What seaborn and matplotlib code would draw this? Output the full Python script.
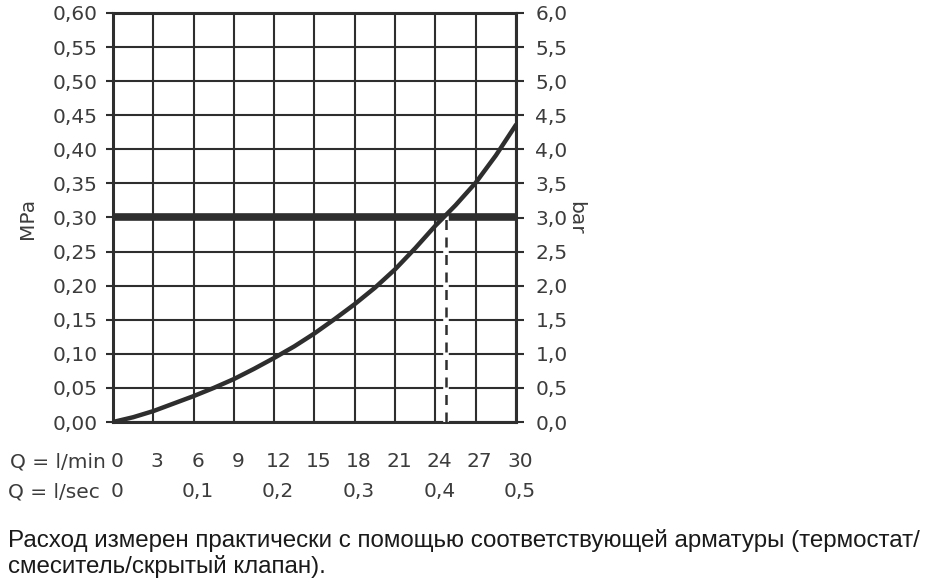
import numpy as np
import matplotlib
matplotlib.use("Agg")
import matplotlib.pyplot as plt
import matplotlib.transforms as mtransforms
import seaborn as sns

# Datos
q_min = [0, 3, 6, 9, 12, 15, 18, 21, 24, 27, 30]            # l/min (ejes)
q_curva = [0, 1.5, 3, 4.5, 6, 7.5, 9, 10.5, 12, 13.5, 15, 16.5, 18, 19.5, 21,
           22.5, 24, 25.5, 27, 28.5, 30]
mpa_curva = [0, 0.007, 0.016, 0.027, 0.038, 0.050, 0.063, 0.078, 0.094, 0.111,
             0.130, 0.151, 0.173, 0.197, 0.224, 0.255, 0.288, 0.318, 0.351,
             0.391, 0.436]
q_sec = [0, 0.1, 0.2, 0.3, 0.4, 0.5]                          # l/sec
mpa_ticks = [round(0.05 * i, 2) for i in range(13)]
bar_ticks = [round(0.5 * i, 1) for i in range(13)]
presion_ref = 0.30      # MPa
q_corte = 24.8          # l/min donde la curva cruza 0,30 MPa

texto_1 = "Расход измерен практически с помощью соответствующей арматуры (термостат/"
texto_2 = "смеситель/скрытый клапан)."

sns.set_style("white")
plt.rcParams['font.family'] = ['DejaVu Sans']

col_lin = "#2e2e2e"
col_txt = "#3c3c3c"

fig = plt.figure(figsize=(9.29, 5.82), dpi=100)
ax = fig.add_axes([113 / 929, 1 - 422 / 582, 403 / 929, 409 / 582])

# Cuadrícula
ax.set_xlim(0, 30)
ax.set_ylim(0, 0.60)
ax.set_xticks(q_min)
ax.set_yticks(mpa_ticks)
ax.grid(True, color=col_lin, linewidth=1.5)
ax.set_axisbelow(True)
for s in ax.spines.values():
    s.set_color(col_lin)
    s.set_linewidth(2.2)

# Línea gruesa 0,30 MPa
ax.axhline(presion_ref, color=col_lin, linewidth=5.5, zorder=3)

# Línea discontinua vertical
ax.plot([q_corte, q_corte], [0, presion_ref], color="white", linewidth=4, zorder=3.5)
ax.plot([q_corte, q_corte], [0, presion_ref], color=col_lin, linewidth=1.8,
        dashes=(4, 3), zorder=4)

# Curva
sns.lineplot(x=q_curva, y=mpa_curva, ax=ax, color=col_lin, linewidth=3.2, sort=False,
             zorder=5)
ax.lines[-1].set_solid_capstyle("round")
ax.lines[-1].set_solid_joinstyle("round")

# Eje izquierdo MPa
ax.set_yticklabels([f"{v:.2f}".replace(".", ",") for v in mpa_ticks],
                   fontsize=14.5, color=col_txt)
ax.tick_params(axis="y", direction="out", length=5, width=1.5, color=col_lin, pad=6)
ax.tick_params(axis="x", direction="out", length=4, width=1.5, color=col_lin,
               labelbottom=False)
ax.set_xlabel("")
ax.set_ylabel("")

# Eje derecho bar
ax2 = ax.twinx()
ax2.set_ylim(0, 6.0)
ax2.set_yticks(bar_ticks)
ax2.set_yticklabels([f"{v:.1f}".replace(".", ",") for v in bar_ticks],
                    fontsize=14.5, color=col_txt)
ax2.tick_params(axis="y", direction="out", length=6, width=1.5, color=col_lin, pad=8)
ax2.grid(False)
for s in ax2.spines.values():
    s.set_visible(False)

fig.text(28 / 929, 1 - 218 / 582, "MPa", rotation=90, ha="center", va="center",
         fontsize=14.5, color=col_txt)
fig.text(576 / 929, 1 - 218 / 582, "bar", rotation=270, ha="center", va="center",
         fontsize=14.5, color=col_txt)

# Filas de caudal debajo del gráfico
trans = mtransforms.blended_transform_factory(ax.transData, fig.transFigure)
off = mtransforms.ScaledTranslation(4 / 100, 0, fig.dpi_scale_trans)
y1 = 1 - 467 / 582
y2 = 1 - 497 / 582
for q in q_min:
    ax.text(q, y1, str(q), transform=trans + off, ha="center", va="baseline",
            fontsize=14.5, color=col_txt, clip_on=False)
for q in q_sec:
    lab = "0" if q == 0 else f"{q:.1f}".replace(".", ",")
    ax.text(q * 60, y2, lab, transform=trans + off, ha="center", va="baseline",
            fontsize=14.5, color=col_txt, clip_on=False)
fig.text(10 / 929, y1, "Q = l/min", ha="left", va="baseline", fontsize=14.5, color=col_txt)
fig.text(8 / 929, y2, "Q = l/sec", ha="left", va="baseline", fontsize=14.5, color=col_txt)

# Nota al pie
fig.text(8 / 929, 1 - 547 / 582, texto_1, ha="left", va="baseline", fontsize=17.4,
         family="Liberation Sans", color="#1a1a1a")
fig.text(8 / 929, 1 - 573 / 582, texto_2, ha="left", va="baseline", fontsize=17.4,
         family="Liberation Sans", color="#1a1a1a")

fig.savefig("out.png", dpi=100)
